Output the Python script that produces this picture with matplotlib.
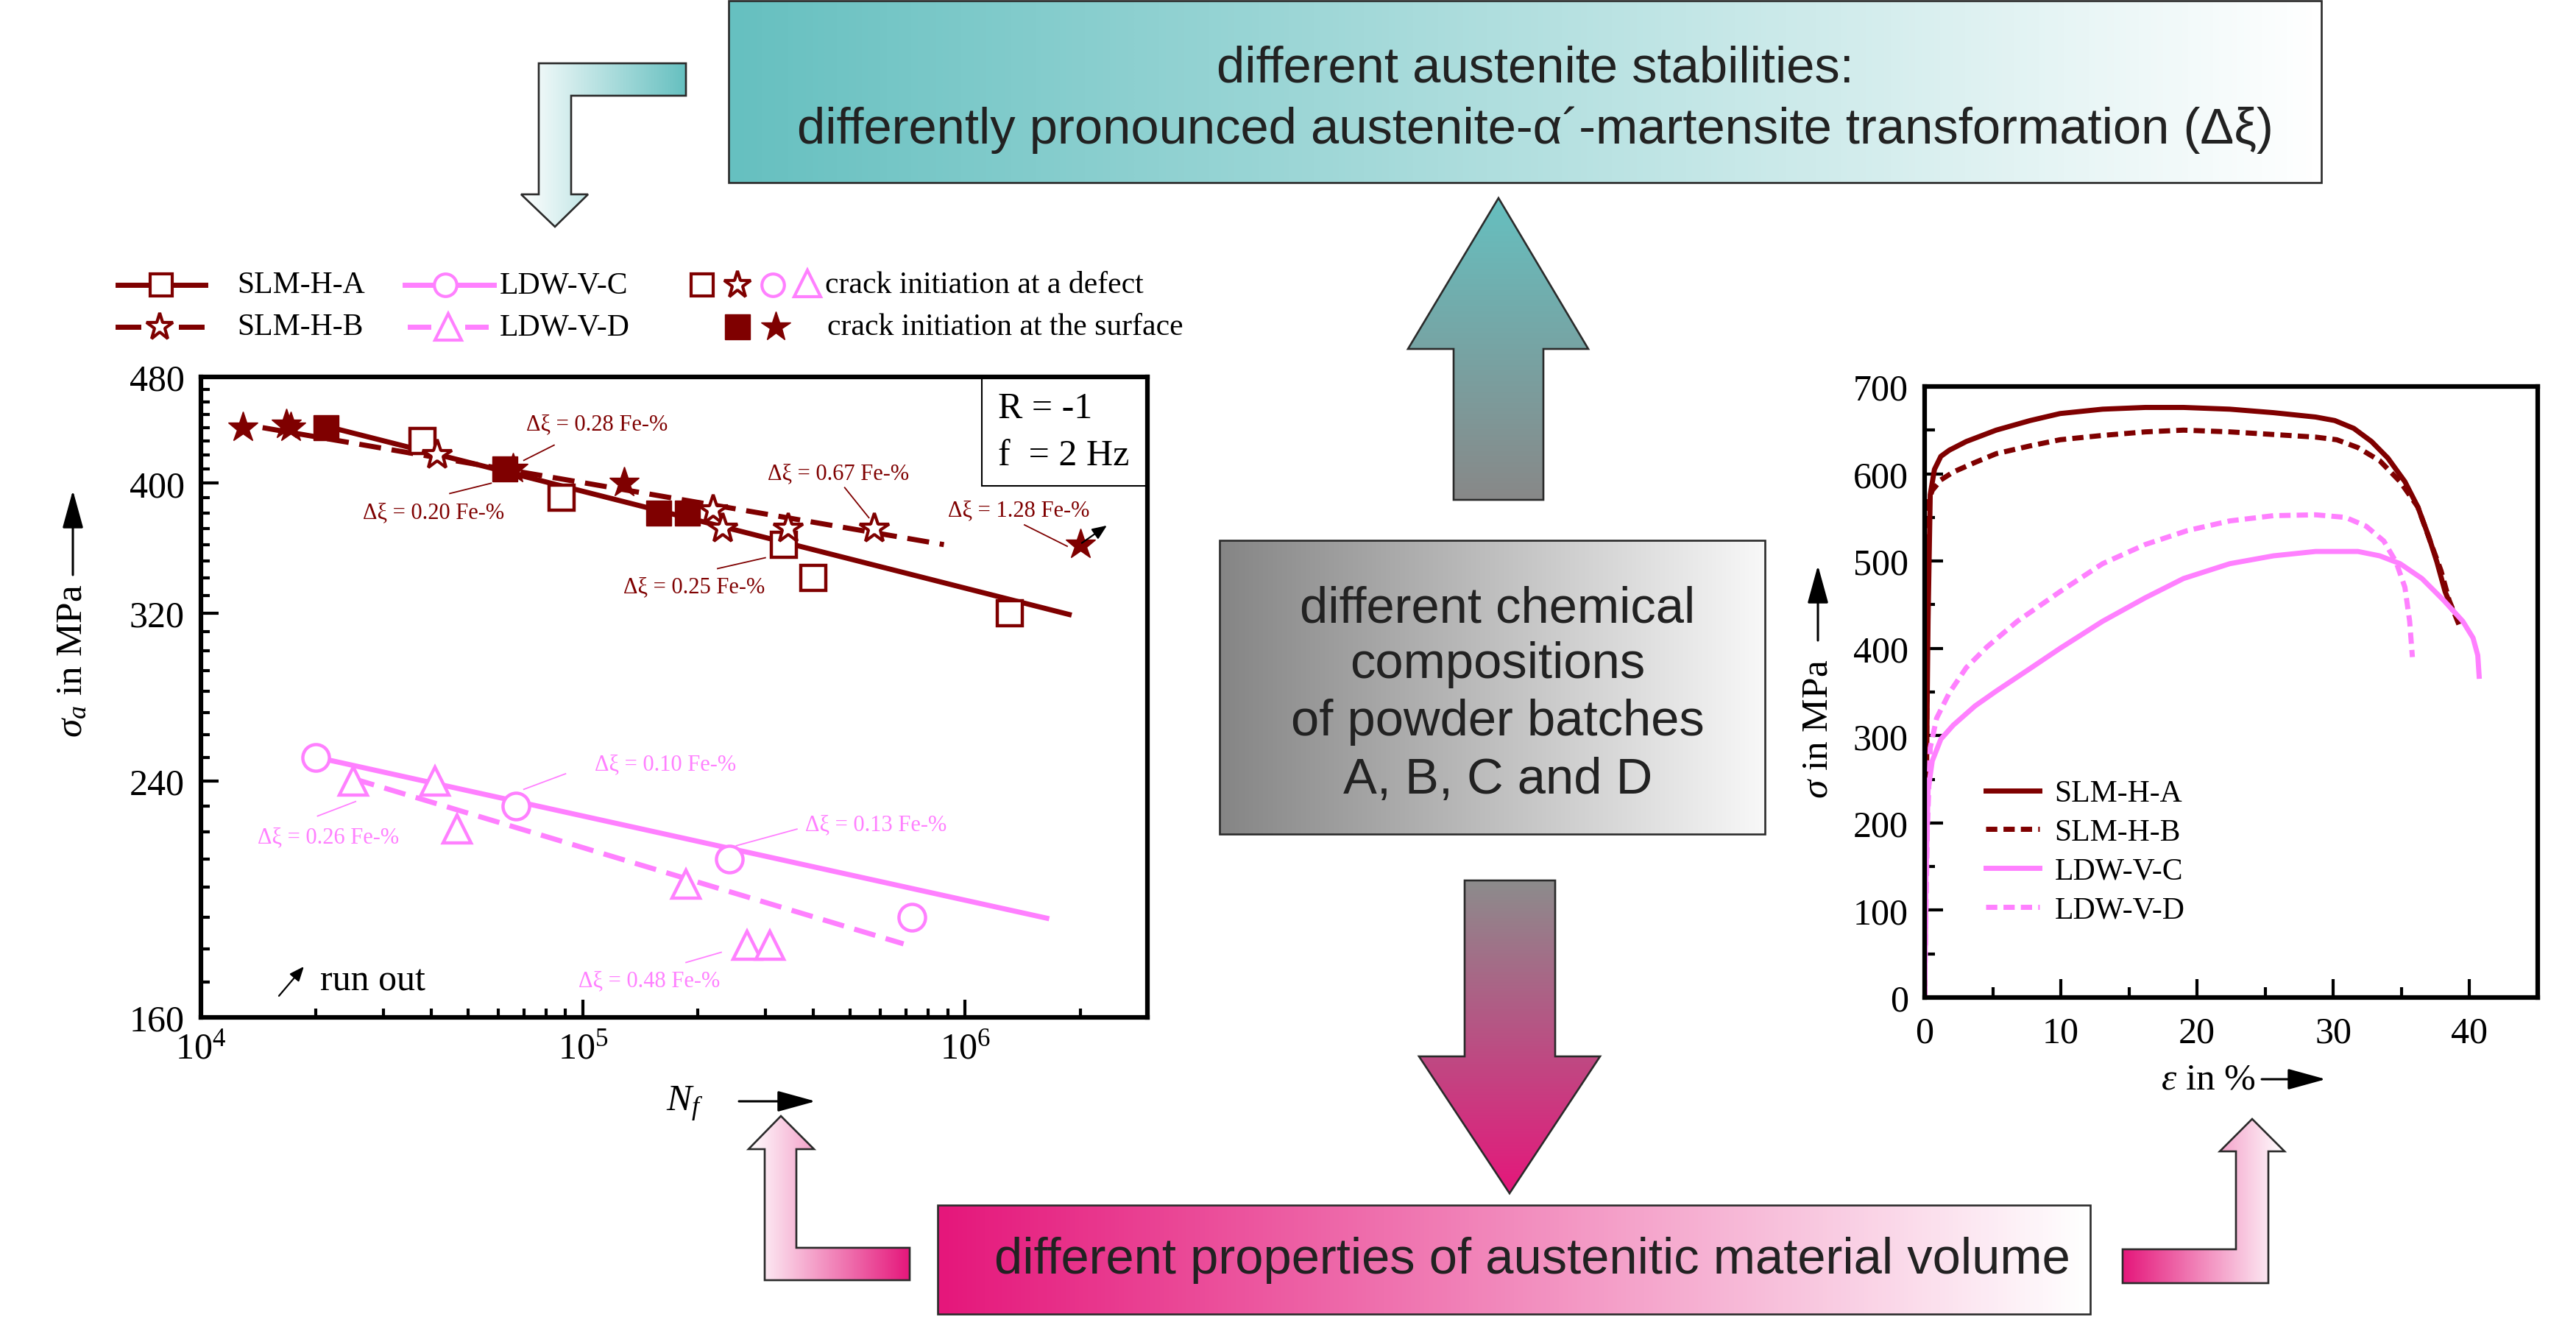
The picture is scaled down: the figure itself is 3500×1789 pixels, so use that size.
import numpy as np
import matplotlib
matplotlib.use('Agg')
import matplotlib.pyplot as plt
from matplotlib.patches import Polygon, Rectangle
from matplotlib.colors import LinearSegmentedColormap
from matplotlib.ticker import FixedLocator, NullFormatter, LogFormatterMathtext, FuncFormatter, MultipleLocator

plt.rcParams['font.family'] = ['Liberation Serif', 'DejaVu Serif']
plt.rcParams['mathtext.fontset'] = 'custom'
plt.rcParams['mathtext.rm'] = 'Liberation Serif'
plt.rcParams['mathtext.it'] = 'Liberation Serif:italic'
plt.rcParams['mathtext.bf'] = 'Liberation Serif:bold'

# ---------------- data: fatigue (S-N) ----------------
A_def_N = [3.8e4, 8.8e4, 3.36e5, 4.0e5, 1.31e6]
A_def_S = [430, 390, 360, 340, 320]
A_surf_N = [2.13e4, 6.25e4, 1.58e5, 1.88e5]
A_surf_S = [440, 410, 380, 380]
A_fit_N = [2.0e4, 1.9e6]
A_fit_S = [443, 319]

B_def_N = [4.16e4, 2.19e5, 2.32e5, 3.45e5, 5.8e5]
B_def_S = [420, 382, 370, 370, 370]
B_surf_N = [1.29e4, 1.67e4, 1.72e4, 6.56e4, 1.28e5, 2.0e6]
B_surf_S = [440, 442, 440, 410, 400, 360]
B_fit_N = [1.45e4, 8.8e5]
B_fit_S = [440, 360]

C_def_N = [2.0e4, 6.66e4, 2.42e5, 7.25e5]
C_def_S = [250, 230, 210, 190]
C_fit_N = [2.0e4, 1.66e6]
C_fit_S = [250, 189.5]

D_def_N = [2.5e4, 4.1e4, 4.69e4, 1.86e5, 2.69e5, 3.08e5]
D_def_S = [240, 240, 221, 201, 181, 181]
D_fit_N = [2.5e4, 6.9e5]
D_fit_S = [241, 181.5]

# annotations
dxi_labels = ["Δξ = 0.28 Fe-%", "Δξ = 0.20 Fe-%", "Δξ = 0.67 Fe-%", "Δξ = 1.28 Fe-%",
              "Δξ = 0.25 Fe-%", "Δξ = 0.10 Fe-%", "Δξ = 0.26 Fe-%", "Δξ = 0.13 Fe-%",
              "Δξ = 0.48 Fe-%"]
dxi_text_N = [1.09e5, 4.06e4, 4.65e5, 1.38e6, 1.95e5, 1.64e5, 2.15e4, 5.83e5, 1.49e5]
dxi_text_S = [443, 380.5, 407, 382, 335, 247, 218, 222.8, 170.4]
dxi_line_N0 = [8.4e4, 4.48e4, 4.84e5, 1.43e6, 2.25e5, 9.0e4, 2.02e4, 3.63e5, 1.86e5]
dxi_line_S0 = [427, 393, 397, 372.4, 345.5, 243, 226, 221, 175.8]
dxi_line_N1 = [7.0e4, 5.75e4, 5.6e5, 1.85e6, 3.0e5, 7.0e4, 2.54e4, 2.52e5, 2.3e5]
dxi_line_S1 = [416, 400, 377, 359, 352, 236.6, 231.7, 214.8, 178.9]
dxi_group = ['SLM', 'SLM', 'SLM', 'SLM', 'SLM', 'LDW', 'LDW', 'LDW', 'LDW']

# ---------------- data: tensile curves ----------------
A_eps = [0, 0.1, 0.18, 0.25, 0.41, 0.72, 1.19, 1.81, 3.06, 5.25, 7.75, 9.94, 13.06, 16.2, 19.0, 22.4, 25.6,
         28.7, 30.1, 31.5, 32.8, 34.0, 35.25, 36.2, 37.0, 37.6, 38.2, 38.7]
A_sig = [0, 180, 330, 431, 576, 605, 620, 627, 637, 650, 661, 669, 674, 676, 676, 674, 670,
         665, 661, 652, 637, 618, 591, 562, 528, 499, 465, 446]
B_eps = [0, 0.1, 0.18, 0.25, 0.56, 1.19, 2.1, 3.7, 5.25, 7.75, 9.94, 13.1, 16.2, 19.0, 22.4, 25.6, 28.7,
         30.25, 31.8, 33.4, 34.9, 36.2, 37.1, 37.9, 38.5, 39.3]
B_sig = [0, 170, 400, 567, 581, 593, 602, 613, 623, 632, 639, 644, 648, 650, 648, 645, 642,
         639, 630, 615, 591, 562, 523, 489, 455, 424]
C_eps = [0, 0.1, 0.25, 0.56, 1.19, 2.1, 3.7, 5.25, 7.75, 9.94, 13.06, 16.2, 19.0, 22.4, 25.6, 28.7, 31.8,
         33.4, 34.9, 36.5, 38.1, 39.5, 40.25, 40.6, 40.7]
C_sig = [0, 140, 237, 271, 296, 312, 334, 351, 377, 400, 431, 458, 480, 497, 506, 511, 511,
         506, 497, 480, 455, 431, 412, 392, 368]
D_eps = [0, 0.19, 0.41, 0.88, 1.81, 3.06, 4.6, 6.8, 9.94, 13.06, 16.2, 19.3, 22.4, 25.6, 28.7, 30.9,
         32.4, 33.7, 34.6, 35.25, 35.6, 35.8]
D_sig = [0, 189, 286, 320, 349, 378, 402, 431, 465, 497, 519, 535, 546, 552, 553, 550,
         540, 523, 499, 470, 431, 390]

series_names = ["SLM-H-A", "SLM-H-B", "LDW-V-C", "LDW-V-D"]
y_ticks_left = [160, 240, 320, 400, 480]

RED = '#7f0000'
PINK = '#ff80ff'
TEAL = '#66c0c0'
GRAY = '#858585'
MAG = '#e5177b'
EDGE = '#2b2b2b'

W, H = 3500, 1790
fig = plt.figure(figsize=(W / 100, H / 100), dpi=100)
ov = fig.add_axes([0, 0, 1, 1])
ov.set_axis_off()


def grad_poly(ax, pts, c0, c1, direction='h'):
    poly = Polygon(pts, closed=True, facecolor='none', edgecolor=EDGE, lw=1.9, zorder=3)
    ax.add_patch(poly)
    xs = [p[0] for p in pts]
    ys = [p[1] for p in pts]
    x0, x1, y0, y1 = min(xs), max(xs), min(ys), max(ys)
    cmap = LinearSegmentedColormap.from_list('g', [c0, c1])
    if direction == 'h':
        arr = np.linspace(0, 1, 256)[None, :]
    else:
        arr = np.linspace(0, 1, 256)[:, None]
    im = ax.imshow(arr, cmap=cmap, extent=(x0, x1, y1, y0), origin='upper',
                   aspect='auto', zorder=2, interpolation='bilinear')
    im.set_clip_path(poly)


SANS = ['Liberation Sans', 'DejaVu Sans']
BFS = 49.5
# top box
grad_poly(ov, [(990, 2), (3154, 2), (3154, 249), (990, 249)], TEAL, '#ffffff', 'h')
ov.text(2086, 93, "different austenite stabilities:", ha='center', va='center', fontsize=BFS, family=SANS, color='#222222', zorder=4)
ov.text(2086, 177, "differently pronounced austenite-α´-martensite transformation (Δξ)", ha='center', va='center', fontsize=BFS, family=SANS, color='#222222', zorder=4)
# top-left L arrow
grad_poly(ov, [(932, 87), (732, 87), (732, 265), (708, 265), (754, 309), (799, 265), (776, 265), (776, 131), (932, 131)],
          '#ffffff', TEAL, 'h')
# up arrow
grad_poly(ov, [(2036, 270), (2158, 475), (2097, 475), (2097, 680), (1975, 680), (1975, 475), (1913, 475)],
          TEAL, '#888888', 'v')
# center box
grad_poly(ov, [(1657, 735), (2398, 735), (2398, 1134), (1657, 1134)], GRAY, '#f8f8f8', 'h')
for txt, yy in zip(["different chemical", "compositions", "of powder batches", "A, B, C and D"], [828, 903, 981, 1060]):
    ov.text(2035, yy, txt, ha='center', va='center', fontsize=BFS, family=SANS, color='#222222', zorder=4)
# down arrow
grad_poly(ov, [(1990, 1197), (2113, 1197), (2113, 1436), (2174, 1436), (2051, 1622), (1928, 1436), (1990, 1436)],
          '#8c8c8c', MAG, 'v')
# bottom box
grad_poly(ov, [(1274, 1638), (2840, 1638), (2840, 1786), (1274, 1786)], MAG, '#ffffff', 'h')
ov.text(2082, 1712, "different properties of austenitic material volume", ha='center', va='center', fontsize=BFS, family=SANS, color='#222222', zorder=4)
# bottom-left L arrow
grad_poly(ov, [(1061, 1517), (1106, 1562), (1082, 1562), (1082, 1696), (1236, 1696), (1236, 1740), (1039, 1740), (1039, 1562), (1017, 1562)],
          '#ffffff', MAG, 'h')
# bottom-right L arrow
grad_poly(ov, [(2884, 1698), (3038, 1698), (3038, 1565), (3016, 1565), (3060, 1521), (3104, 1565), (3082, 1565), (3082, 1744), (2884, 1744)],
          MAG, '#ffffff', 'h')

# axis labels with arrows (overlay)
ARW = dict(arrowstyle='-|>,head_length=0.8,head_width=0.22', lw=2.2, color='black', shrinkA=0, shrinkB=0)
ov.text(99, 898, r'$\sigma_a$ in MPa', rotation=90, ha='center', va='center', fontsize=37)
ov.annotate('', xy=(99, 667), xytext=(99, 782), arrowprops=dict(ARW, mutation_scale=40))
ov.text(930, 1500, r'$N_f$', ha='center', va='center', fontsize=37)
ov.annotate('', xy=(1108, 1497), xytext=(1004, 1497), arrowprops=dict(ARW, mutation_scale=40))
ov.text(2470, 990, r'$\sigma$ in MPa', rotation=90, ha='center', va='center', fontsize=37)
ov.annotate('', xy=(2470, 769), xytext=(2470, 871), arrowprops=dict(ARW, mutation_scale=40))
ov.text(3000, 1467, r'$\varepsilon$ in %', ha='center', va='center', fontsize=37)
ov.annotate('', xy=(3160, 1467), xytext=(3073, 1467), arrowprops=dict(ARW, mutation_scale=40))

# left legend (manual, overlay)
LFS = 30
r1, r2 = 388, 445
ov.plot([160, 279], [r1, r1], color=RED, lw=5, zorder=5)
ov.plot([219], [r1], marker='s', ms=22, mfc='white', mec=RED, mew=3, zorder=6)
ov.text(322, r1, series_names[0], ha='left', va='center', fontsize=LFS)
ov.plot([160, 188], [r2, r2], color=RED, lw=5, zorder=5)
ov.plot([246, 274], [r2, r2], color=RED, lw=5, zorder=5)
ov.plot([217], [r2], marker='*', ms=28, mfc='white', mec=RED, mew=3, zorder=6)
ov.text(322, r2, series_names[1], ha='left', va='center', fontsize=LFS)
ov.plot([550, 671], [r1, r1], color=PINK, lw=5, zorder=5)
ov.plot([605], [r1], marker='o', ms=22, mfc='white', mec=PINK, mew=3, zorder=6)
ov.text(679, r1, series_names[2], ha='left', va='center', fontsize=LFS)
ov.plot([557, 582], [r2, r2], color=PINK, lw=5, zorder=5)
ov.plot([635, 660], [r2, r2], color=PINK, lw=5, zorder=5)
ov.plot([609], [r2], marker='^', ms=26, mfc='white', mec=PINK, mew=3, zorder=6)
ov.text(679, r2, series_names[3], ha='left', va='center', fontsize=LFS)
ov.plot([954], [r1], marker='s', ms=22, mfc='white', mec=RED, mew=3, zorder=6)
ov.plot([1002], [r1], marker='*', ms=28, mfc='white', mec=RED, mew=3, zorder=6)
ov.plot([1050], [r1], marker='o', ms=22, mfc='white', mec=PINK, mew=3, zorder=6)
ov.plot([1097], [r1 - 2], marker='^', ms=26, mfc='white', mec=PINK, mew=3, zorder=6)
ov.text(1121, r1, "crack initiation at a defect", ha='left', va='center', fontsize=LFS)
ov.plot([1002], [r2], marker='s', ms=24, color=RED, zorder=6)
ov.plot([1054], [r2], marker='*', ms=30, color=RED, zorder=6)
ov.text(1124, r2, "crack initiation at the surface", ha='left', va='center', fontsize=LFS)

ov.set_xlim(0, W)
ov.set_ylim(H, 0)


def rect(x0, y0, x1, y1):
    return [x0 / W, 1 - y1 / H, (x1 - x0) / W, (y1 - y0) / H]


# ---------------- left chart: S-N ----------------
ax = fig.add_axes(rect(273, 513, 1559, 1383))
ax.set_facecolor('none')
ax.set_xscale('log')
ax.set_yscale('log')
ax.plot(A_fit_N, A_fit_S, color=RED, lw=5, solid_capstyle='butt', zorder=3)
ax.plot(B_fit_N, B_fit_S, color=RED, lw=5, dashes=(4.3, 2.1), zorder=3)
ax.plot(C_fit_N, C_fit_S, color=PINK, lw=5, solid_capstyle='butt', zorder=3)
ax.plot(D_fit_N, D_fit_S, color=PINK, lw=5, dashes=(4.3, 2.1), zorder=3)
ax.plot(A_def_N, A_def_S, ls='none', marker='s', ms=24, mfc='white', mec=RED, mew=3.2, zorder=5)
ax.plot(A_surf_N, A_surf_S, ls='none', marker='s', ms=24, color=RED, zorder=5)
ax.plot(B_def_N, B_def_S, ls='none', marker='*', ms=30, mfc='white', mec=RED, mew=3, zorder=5)
ax.plot(B_surf_N, B_surf_S, ls='none', marker='*', ms=31, color=RED, zorder=5)
ax.plot(C_def_N, C_def_S, ls='none', marker='o', ms=26, mfc='white', mec=PINK, mew=3.2, zorder=5)
ax.plot(D_def_N, D_def_S, ls='none', marker='^', ms=28, mfc='white', mec=PINK, mew=3.2, zorder=5)

for t, tn, ts, n0, s0, n1, s1, g in zip(dxi_labels, dxi_text_N, dxi_text_S, dxi_line_N0, dxi_line_S0,
                                       dxi_line_N1, dxi_line_S1, dxi_group):
    c = RED if g == 'SLM' else PINK
    ax.text(tn, ts, t, ha='center', va='center', fontsize=22, color=c, zorder=6)
    ax.plot([n0, n1], [s0, s1], color=c, lw=1.3, zorder=6)

# run out arrows
ax.annotate('', xy=(2.35e6, 372), xytext=(2.02e6, 361),
            arrowprops=dict(arrowstyle='-|>,head_length=0.6,head_width=0.25', lw=1.6, color='black', mutation_scale=20, shrinkA=0, shrinkB=0), zorder=7)
ax.annotate('', xy=(1.86e4, 174.6), xytext=(1.6e4, 166),
            arrowprops=dict(arrowstyle='-|>,head_length=0.6,head_width=0.25', lw=1.6, color='black', mutation_scale=20, shrinkA=0, shrinkB=0))
ax.text(2.05e4, 170.4, "run out", ha='left', va='center', fontsize=36)

ax.add_patch(Rectangle((0.825, 0.83), 0.175, 0.17, transform=ax.transAxes, fill=False, lw=1.5, ec='black', zorder=6))
ax.text(0.842, 0.9506, "R = -1", transform=ax.transAxes, ha='left', va='center', fontsize=36)
ax.text(0.842, 0.877, "f  = 2 Hz", transform=ax.transAxes, ha='left', va='center', fontsize=36)

ax.set_xlim(1e4, 3e6)
ax.set_ylim(160, 480)
ax.yaxis.set_major_locator(FixedLocator(y_ticks_left))
ax.yaxis.set_major_formatter(FuncFormatter(lambda v, p: f'{v:.0f}'))
ax.yaxis.set_minor_locator(FixedLocator([v for v in range(170, 480, 10) if v not in y_ticks_left]))
ax.yaxis.set_minor_formatter(NullFormatter())
ax.xaxis.set_major_locator(FixedLocator([1e4, 1e5, 1e6]))
ax.xaxis.set_major_formatter(LogFormatterMathtext())
ax.xaxis.set_minor_locator(FixedLocator([m * 10 ** e for e in (4, 5, 6) for m in range(2, 10) if m * 10 ** e < 3e6]))
ax.xaxis.set_minor_formatter(NullFormatter())
ax.tick_params(which='both', direction='in', top=False, right=False, width=3)
ax.tick_params(which='major', length=17, labelsize=36)
ax.tick_params(axis='y', which='major', pad=16)
ax.tick_params(axis='x', which='major', pad=14)
ax.tick_params(which='minor', length=8.5)
for s in ax.spines.values():
    s.set_linewidth(4.5)

# ---------------- right chart: tensile ----------------
bx = fig.add_axes(rect(2615, 526, 3448, 1356))
bx.set_facecolor('none')
bx.plot(A_eps, A_sig, color=RED, lw=5, label=series_names[0])
bx.plot(B_eps, B_sig, color=RED, lw=5, dashes=(2.2, 1.2), label=series_names[1])
bx.plot(C_eps, C_sig, color=PINK, lw=5, label=series_names[2])
bx.plot(D_eps, D_sig, color=PINK, lw=5, dashes=(2.2, 1.2), label=series_names[3])
bx.set_xlim(0, 45)
bx.set_ylim(0, 700)
bx.xaxis.set_major_locator(FixedLocator([0, 10, 20, 30, 40]))
bx.xaxis.set_minor_locator(FixedLocator([5, 15, 25, 35]))
bx.yaxis.set_major_locator(MultipleLocator(100))
bx.yaxis.set_minor_locator(MultipleLocator(50))
bx.tick_params(which='both', direction='in', top=False, right=False, width=3)
bx.tick_params(which='major', length=18, labelsize=36)
bx.tick_params(which='minor', length=10)
bx.tick_params(axis='y', which='major', pad=16)
bx.tick_params(axis='x', which='major', pad=18)
for s in bx.spines.values():
    s.set_linewidth(4.5)
bx.legend(loc='upper left', bbox_to_anchor=(0.0996, 0.357), frameon=False, fontsize=30,
          handlelength=1.75, handletextpad=0.5, labelspacing=0.34, borderpad=0, borderaxespad=0)

fig.savefig('out.png', dpi=100)
